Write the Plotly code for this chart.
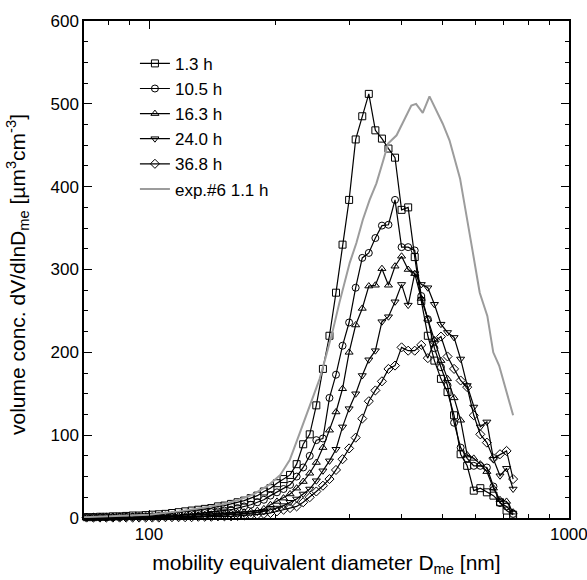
import plotly.graph_objects as go

# mobility equivalent diameter channels [nm]
diam = [71.0, 73.7, 76.4, 79.1, 82.0, 85.1, 88.2, 91.4, 94.7, 98.2,
        101.8, 105.5, 109.4, 113.4, 117.6, 121.9, 126.3, 131.0, 135.8, 140.7,
        145.9, 151.2, 156.8, 162.5, 168.5, 174.7, 181.1, 187.7, 194.6, 201.7,
        209.1, 216.7, 224.7, 232.9, 241.4, 250.3, 259.5, 269.0, 278.8, 289.0,
        299.6, 310.6, 322.0, 333.8, 346.0, 358.7, 371.8, 385.4, 399.5, 414.2,
        429.4, 445.1, 461.4, 478.3, 495.8, 514.0, 532.8, 552.3, 572.5, 593.5,
        615.3, 637.8, 661.2, 685.4, 710.5, 736.5]

v_1_3h = [1, 1, 1.5, 1.5, 2, 2, 2.5, 3, 3, 3.5,
          4, 4.5, 5, 6, 7, 8, 9, 10, 11, 12,
          14, 15, 17, 19, 21, 24, 27, 32, 36, 42,
          47, 52, 65, 89, 101, 136, 180, 220, 272, 330,
          384, 457, 485, 512, 468, 458, 446, 435, 372, 375,
          315, 262, 220, 190, 168, 152, 124, 77, 63, 33,
          36, 31, 27, 19, 9, 4]

v_10_5h = [1, 1, 1, 1, 1, 1.5, 1.5, 1.5, 2, 2,
           2, 2.5, 3, 3, 3.5, 4, 4.5, 5, 6, 7,
           8, 9, 10, 12, 14, 16, 19, 22, 27, 31,
           35, 40, 50, 61, 75, 94, 96, 145, 173, 208,
           236, 278, 314, 320, 338, 353, 354, 384, 327, 327,
           323, 268, 240, 205, 182, 160, 115, 85, 72, 63,
           63, 61, 38, 18, 14, 5]

v_16_3h = [0.5, 0.5, 0.5, 0.5, 1, 1, 1, 1, 1.5, 1.5,
           1.5, 1.5, 2, 2, 2.5, 2.5, 3, 3.5, 4, 4.5,
           5, 5.5, 6, 6.5, 7, 8, 9, 11, 16, 20,
           24, 29, 36, 44, 54, 67, 85, 106, 128, 156,
           200, 233, 253, 280, 281, 301, 281, 304, 316, 300,
           295, 265, 240, 215, 190, 168, 145, 118, 76, 72,
           65, 56, 36, 22, 20, 7]

v_24_0h = [0.5, 0.5, 0.5, 0.5, 0.5, 0.5, 1, 1, 1, 1,
           1, 1, 1.5, 1.5, 1.5, 2, 2, 2, 2.5, 3,
           3, 3.5, 4, 4.5, 5, 6, 7, 8, 10, 12,
           15, 19, 23, 29, 35, 45, 57, 69, 83, 110,
           132, 150, 172, 191, 202, 237, 243, 261, 282, 257,
           295, 282, 278, 258, 234, 224, 218, 192, 160, 134,
           110, 116, 71, 51, 60, 35]

v_36_8h = [0.5, 0.5, 0.5, 0.5, 0.5, 0.5, 0.5, 0.5, 0.5, 0.5,
           0.5, 0.5, 1, 1, 1, 1, 1, 1.5, 1.5, 1.5,
           2, 2, 2, 2.5, 3, 3.5, 4, 5, 6, 8,
           10, 12, 14, 19, 25, 32, 39, 47, 58, 71,
           84, 97, 120, 141, 154, 165, 180, 184, 206, 202,
           202, 209, 193, 213, 219, 195, 180, 166, 158, 124,
           101, 91, 72, 77, 81, 47]

exp6_x = [70, 81.4, 100, 117.9, 133.3, 150.9, 163.8, 177.9, 193.1, 205.4,
          216.3, 227.6, 242.3, 254.9, 263.8, 273.6, 284.1, 300.6, 311.8, 323.0,
          335.3, 348.0, 361.4, 371.0, 388.7, 406.5, 421.4, 432.6, 448.7, 465.6,
          482.3, 500.7, 519.6, 550.5, 590.8, 613.3, 639.4, 660.5, 682.1, 709.4,
          736.5]
exp6_y = [1, 2, 4, 8, 12, 17, 22, 29, 40, 52,
          70, 100, 138, 168, 195, 225, 260, 308, 332, 360,
          384, 404, 432, 452, 462, 481, 498, 500, 489, 509,
          493, 476, 456, 410, 320, 272, 244, 200, 184, 152,
          124]

x_tick_vals = [100, 1000]
x_tick_text = ["100", "1000"]
x_minor_vals = [80, 90, 200, 300, 400, 500, 600, 700, 800, 900]
y_tick_vals = [0, 100, 200, 300, 400, 500, 600]

x_title = "mobility equivalent diameter D<sub>me</sub> [nm]"
y_title = "volume conc. dV/dlnD<sub>me</sub> [µm<sup>3</sup>cm<sup>-3</sup>]"

series = [
    ("1.3 h", v_1_3h, "square-open"),
    ("10.5 h", v_10_5h, "circle-open"),
    ("16.3 h", v_16_3h, "triangle-up-open"),
    ("24.0 h", v_24_0h, "triangle-down-open"),
    ("36.8 h", v_36_8h, "diamond-open"),
]

FONT = "Liberation Sans, Arial, sans-serif"

fig = go.Figure()
for name, vals, sym in series:
    fig.add_trace(go.Scatter(
        x=diam, y=vals, name=name, mode="lines+markers",
        line=dict(color="black", width=1.2),
        marker=dict(symbol=sym, size=7, color="black", line=dict(width=1, color="black")),
        cliponaxis=False,
    ))

fig.add_trace(go.Scatter(
    x=exp6_x, y=exp6_y, name="exp.#6 1.1 h", mode="lines",
    line=dict(color="#9c9c9c", width=2),
))

fig.update_layout(
    width=587, height=580,
    margin=dict(l=84, r=18, t=21, b=62),
    paper_bgcolor="white", plot_bgcolor="white",
    font=dict(family=FONT, size=17, color="black"),
    showlegend=True,
    legend=dict(x=0.105, y=0.95, xanchor="left", yanchor="top",
                bgcolor="rgba(0,0,0,0)", font=dict(size=17),
                tracegroupgap=0),
    xaxis=dict(
        type="log", range=[1.845098, 3.0003],
        tickvals=x_tick_vals, ticktext=x_tick_text, ticklabeloverflow="allow",
        ticks="inside", ticklen=8, tickwidth=1.2, tickcolor="black",
        minor=dict(tickvals=x_minor_vals,
                   ticks="inside", ticklen=4, tickwidth=1, tickcolor="black"),
        showline=True, linecolor="black", linewidth=1.5, mirror="allticks",
        showgrid=False, zeroline=False, automargin=False,
        title=dict(text=x_title, font=dict(size=21), standoff=12),
    ),
    yaxis=dict(
        range=[0, 600], tickvals=y_tick_vals, ticklabeloverflow="allow",
        ticks="inside", ticklen=8, tickwidth=1.2, tickcolor="black",
        minor=dict(dtick=25, ticks="inside", ticklen=4, tickwidth=1, tickcolor="black"),
        showline=True, linecolor="black", linewidth=1.5, mirror="allticks",
        showgrid=False, zeroline=False, automargin=False,
    ),
    annotations=[dict(
        text=y_title, textangle=-90, showarrow=False,
        xref="paper", yref="paper", x=-0.137, y=0.49,
        xanchor="center", yanchor="middle", font=dict(size=21),
    )],
)

# remove the browser's default 8px page margin so the figure fills the window
fig.write_html(
    "out.html",
    config={"displayModeBar": False},
    post_script="document.body.style.margin='0';document.body.style.overflow='hidden';",
)
